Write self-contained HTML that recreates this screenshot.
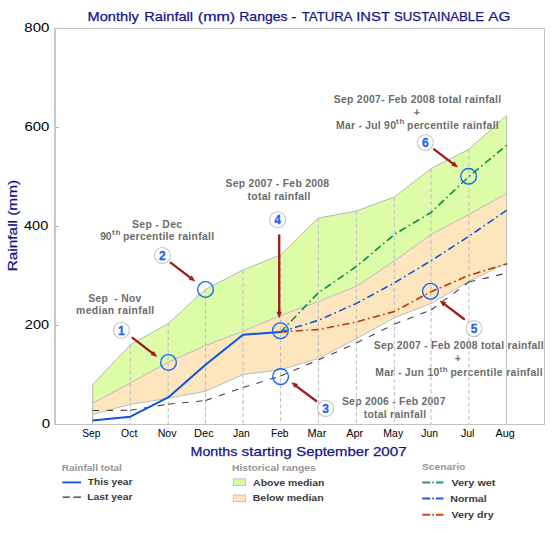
<!DOCTYPE html>
<html><head><meta charset="utf-8"><style>
html,body{margin:0;padding:0;background:#fff;width:555px;height:533px;overflow:hidden;}
svg{display:block;font-family:"Liberation Sans", sans-serif;}
</style></head><body>
<svg width="555" height="533" viewBox="0 0 555 533">
<rect x="0" y="0" width="555" height="533" fill="#ffffff"/>
<text x="87.57" y="20.50" font-size="13.10" fill="#14148a" textLength="51.21" lengthAdjust="spacingAndGlyphs" stroke="#14148a" stroke-width="0.25">Monthly</text>
<text x="144.27" y="20.50" font-size="13.10" fill="#14148a" textLength="48.87" lengthAdjust="spacingAndGlyphs" stroke="#14148a" stroke-width="0.25">Rainfall</text>
<text x="197.82" y="20.50" font-size="13.10" fill="#14148a" textLength="37.25" lengthAdjust="spacingAndGlyphs" stroke="#14148a" stroke-width="0.25">(mm)</text>
<text x="239.22" y="20.50" font-size="13.10" fill="#14148a" textLength="48.36" lengthAdjust="spacingAndGlyphs" stroke="#14148a" stroke-width="0.25">Ranges</text>
<text x="291.39" y="20.50" font-size="13.10" fill="#14148a" textLength="5.18" lengthAdjust="spacingAndGlyphs" stroke="#14148a" stroke-width="0.25">-</text>
<text x="301.80" y="20.50" font-size="13.10" fill="#14148a" textLength="50.76" lengthAdjust="spacingAndGlyphs" stroke="#14148a" stroke-width="0.25">TATURA</text>
<text x="356.25" y="20.50" font-size="13.10" fill="#14148a" textLength="33.68" lengthAdjust="spacingAndGlyphs" stroke="#14148a" stroke-width="0.25">INST</text>
<text x="394.00" y="20.50" font-size="13.10" fill="#14148a" textLength="90.01" lengthAdjust="spacingAndGlyphs" stroke="#14148a" stroke-width="0.25">SUSTAINABLE</text>
<text x="488.34" y="20.50" font-size="13.10" fill="#14148a" textLength="22.21" lengthAdjust="spacingAndGlyphs" stroke="#14148a" stroke-width="0.25">AG</text>
<polygon points="92.6,384.5 130.3,344.8 168.2,323.5 205.5,289.3 243.0,270.0 280.6,254.8 318.4,218.0 356.4,211.0 394.3,197.0 431.0,168.6 468.9,149.3 506.6,115.3 506.6,193.5 468.9,214.5 431.0,234.5 394.3,261.0 356.4,286.3 318.4,301.5 280.6,315.5 243.0,331.3 205.5,345.5 168.2,362.2 130.3,383.0 92.6,403.3" fill="#ddfca8" stroke="none"/>
<polygon points="92.6,403.3 130.3,383.0 168.2,362.2 205.5,345.5 243.0,331.3 280.6,315.5 318.4,301.5 356.4,286.3 394.3,261.0 431.0,234.5 468.9,214.5 506.6,193.5 506.6,263.0 468.9,281.4 431.0,303.5 394.3,317.8 356.4,338.7 318.4,358.5 280.6,369.8 243.0,374.6 205.5,391.3 168.2,398.3 130.3,404.3 92.6,414.6" fill="#fde6be" stroke="none"/>
<polyline points="92.6,384.5 130.3,344.8 168.2,323.5 205.5,289.3 243.0,270.0 280.6,254.8 318.4,218.0 356.4,211.0 394.3,197.0 431.0,168.6 468.9,149.3 506.6,115.3" fill="none" stroke="#b8b8b8" stroke-width="1"/>
<polyline points="92.6,403.3 130.3,383.0 168.2,362.2 205.5,345.5 243.0,331.3 280.6,315.5 318.4,301.5 356.4,286.3 394.3,261.0 431.0,234.5 468.9,214.5 506.6,193.5" fill="none" stroke="#bcbcbc" stroke-width="1"/>
<polyline points="92.6,414.6 130.3,404.3 168.2,398.3 205.5,391.3 243.0,374.6 280.6,369.8 318.4,358.5 356.4,338.7 394.3,317.8 431.0,303.5 468.9,281.4 506.6,263.0" fill="none" stroke="#bcbcbc" stroke-width="1"/>
<line x1="92.6" y1="384.5" x2="92.6" y2="424" stroke="#b8b8b8" stroke-width="1"/>
<line x1="54.5" y1="28.5" x2="544.5" y2="28.5" stroke="#c4c4c4" stroke-width="1"/>
<line x1="544.5" y1="28.5" x2="544.5" y2="424.5" stroke="#c4c4c4" stroke-width="1"/>
<line x1="54" y1="424.5" x2="545" y2="424.5" stroke="#c4c4c4" stroke-width="1.2"/>
<line x1="55" y1="28" x2="55" y2="425" stroke="#c8c8cc" stroke-width="2"/>
<text x="41.68" y="427.60" font-size="13.30" fill="#000" textLength="8.38" lengthAdjust="spacingAndGlyphs">0</text>
<line x1="56" y1="325.5" x2="59" y2="325.5" stroke="#b8b8b8" stroke-width="1"/>
<text x="24.89" y="328.60" font-size="13.30" fill="#000" textLength="24.14" lengthAdjust="spacingAndGlyphs">200</text>
<line x1="56" y1="226.5" x2="59" y2="226.5" stroke="#b8b8b8" stroke-width="1"/>
<text x="23.97" y="229.60" font-size="13.30" fill="#000" textLength="24.26" lengthAdjust="spacingAndGlyphs">400</text>
<line x1="56" y1="127.5" x2="59" y2="127.5" stroke="#b8b8b8" stroke-width="1"/>
<text x="24.42" y="130.60" font-size="13.30" fill="#000" textLength="24.83" lengthAdjust="spacingAndGlyphs">600</text>
<text x="24.32" y="31.60" font-size="13.30" fill="#000" textLength="25.03" lengthAdjust="spacingAndGlyphs">800</text>
<text x="82.22" y="436.80" font-size="10.60" fill="#000" textLength="18.12" lengthAdjust="spacingAndGlyphs">Sep</text>
<text x="121.11" y="436.80" font-size="10.60" fill="#000" textLength="16.18" lengthAdjust="spacingAndGlyphs">Oct</text>
<text x="157.65" y="436.80" font-size="10.60" fill="#000" textLength="18.90" lengthAdjust="spacingAndGlyphs">Nov</text>
<text x="194.12" y="436.80" font-size="10.60" fill="#000" textLength="19.60" lengthAdjust="spacingAndGlyphs">Dec</text>
<text x="233.00" y="436.80" font-size="10.60" fill="#000" textLength="16.77" lengthAdjust="spacingAndGlyphs">Jan</text>
<text x="270.88" y="436.80" font-size="10.60" fill="#000" textLength="17.67" lengthAdjust="spacingAndGlyphs">Feb</text>
<text x="307.42" y="436.80" font-size="10.60" fill="#000" textLength="18.94" lengthAdjust="spacingAndGlyphs">Mar</text>
<text x="346.15" y="436.80" font-size="10.60" fill="#000" textLength="17.05" lengthAdjust="spacingAndGlyphs">Apr</text>
<text x="383.36" y="436.80" font-size="10.60" fill="#000" textLength="19.76" lengthAdjust="spacingAndGlyphs">May</text>
<text x="421.30" y="436.80" font-size="10.60" fill="#000" textLength="16.77" lengthAdjust="spacingAndGlyphs">Jun</text>
<text x="460.90" y="436.80" font-size="10.60" fill="#000" textLength="13.60" lengthAdjust="spacingAndGlyphs">Jul</text>
<text x="495.55" y="436.80" font-size="10.60" fill="#000" textLength="19.28" lengthAdjust="spacingAndGlyphs">Aug</text>
<text x="190.60" y="455.50" font-size="13.10" fill="#14148a" textLength="46.70" lengthAdjust="spacingAndGlyphs" stroke="#14148a" stroke-width="0.25">Months</text>
<text x="241.59" y="455.50" font-size="13.10" fill="#14148a" textLength="50.11" lengthAdjust="spacingAndGlyphs" stroke="#14148a" stroke-width="0.25">starting</text>
<text x="296.32" y="455.50" font-size="13.10" fill="#14148a" textLength="72.54" lengthAdjust="spacingAndGlyphs" stroke="#14148a" stroke-width="0.25">September</text>
<text x="372.95" y="455.50" font-size="13.10" fill="#14148a" textLength="33.70" lengthAdjust="spacingAndGlyphs" stroke="#14148a" stroke-width="0.25">2007</text>
<text transform="translate(16.8,271.29) rotate(-90)" x="0" y="0" font-size="13.1" fill="#14148a" stroke="#14148a" stroke-width="0.25" textLength="91.36" lengthAdjust="spacingAndGlyphs">Rainfall (mm)</text>
<text x="88.30" y="301.60" font-size="10.40" font-weight="bold" fill="#6c6c6c" textLength="53.06" lengthAdjust="spacing" xml:space="preserve">Sep  - Nov</text>
<text x="76.10" y="314.20" font-size="10.40" font-weight="bold" fill="#6c6c6c" textLength="78.15" lengthAdjust="spacing">median rainfall</text>
<text x="132.10" y="227.50" font-size="10.40" font-weight="bold" fill="#6c6c6c" textLength="49.95" lengthAdjust="spacing">Sep - Dec</text>
<text x="100.15" y="239.50" font-size="10.40" font-weight="bold" fill="#6c6c6c" textLength="11.47" lengthAdjust="spacing">90</text>
<text x="111.95" y="235.30" font-size="8.00" font-weight="bold" fill="#6c6c6c" textLength="8.55" lengthAdjust="spacing">th</text>
<text x="122.90" y="239.50" font-size="10.40" font-weight="bold" fill="#6c6c6c" textLength="91.13" lengthAdjust="spacing">percentile rainfall</text>
<text x="225.50" y="186.90" font-size="10.40" font-weight="bold" fill="#6c6c6c" textLength="103.61" lengthAdjust="spacing">Sep 2007 - Feb 2008</text>
<text x="247.45" y="200.40" font-size="10.40" font-weight="bold" fill="#6c6c6c" textLength="63.00" lengthAdjust="spacing">total rainfall</text>
<text x="333.70" y="102.90" font-size="10.40" font-weight="bold" fill="#6c6c6c" textLength="167.36" lengthAdjust="spacing">Sep 2007- Feb 2008 total rainfall</text>
<text x="413.85" y="115.50" font-size="10.40" font-weight="bold" fill="#6c6c6c" textLength="5.77" lengthAdjust="spacing">+</text>
<text x="336.10" y="128.50" font-size="10.40" font-weight="bold" fill="#6c6c6c" textLength="59.82" lengthAdjust="spacing">Mar - Jul 90</text>
<text x="396.10" y="124.40" font-size="8.00" font-weight="bold" fill="#6c6c6c" textLength="8.20" lengthAdjust="spacing">th</text>
<text x="407.00" y="128.50" font-size="10.40" font-weight="bold" fill="#6c6c6c" textLength="91.73" lengthAdjust="spacing">percentile rainfall</text>
<text x="373.70" y="349.00" font-size="10.40" font-weight="bold" fill="#6c6c6c" textLength="169.85" lengthAdjust="spacing">Sep 2007 - Feb 2008 total rainfall</text>
<text x="454.65" y="362.00" font-size="10.40" font-weight="bold" fill="#6c6c6c" textLength="6.27" lengthAdjust="spacing">+</text>
<text x="375.30" y="375.80" font-size="10.40" font-weight="bold" fill="#6c6c6c" textLength="64.04" lengthAdjust="spacing">Mar - Jun 10</text>
<text x="439.50" y="371.70" font-size="8.00" font-weight="bold" fill="#6c6c6c" textLength="8.20" lengthAdjust="spacing">th</text>
<text x="450.40" y="375.80" font-size="10.40" font-weight="bold" fill="#6c6c6c" textLength="92.23" lengthAdjust="spacing">percentile rainfall</text>
<text x="341.90" y="405.10" font-size="10.40" font-weight="bold" fill="#6c6c6c" textLength="103.51" lengthAdjust="spacing">Sep 2006 - Feb 2007</text>
<text x="363.65" y="418.20" font-size="10.40" font-weight="bold" fill="#6c6c6c" textLength="62.40" lengthAdjust="spacing">total rainfall</text>
<line x1="130.3" y1="344.8" x2="130.3" y2="424" stroke="#bcbcc4" stroke-width="1" stroke-dasharray="4,2.5"/>
<line x1="168.2" y1="323.5" x2="168.2" y2="424" stroke="#bcbcc4" stroke-width="1" stroke-dasharray="4,2.5"/>
<line x1="205.5" y1="289.3" x2="205.5" y2="424" stroke="#bcbcc4" stroke-width="1" stroke-dasharray="4,2.5"/>
<line x1="243.0" y1="270.0" x2="243.0" y2="424" stroke="#bcbcc4" stroke-width="1" stroke-dasharray="4,2.5"/>
<line x1="280.6" y1="254.8" x2="280.6" y2="424" stroke="#bcbcc4" stroke-width="1" stroke-dasharray="4,2.5"/>
<line x1="318.4" y1="218.0" x2="318.4" y2="424" stroke="#bcbcc4" stroke-width="1" stroke-dasharray="4,2.5"/>
<line x1="356.4" y1="211.0" x2="356.4" y2="424" stroke="#bcbcc4" stroke-width="1" stroke-dasharray="4,2.5"/>
<line x1="394.3" y1="197.0" x2="394.3" y2="424" stroke="#bcbcc4" stroke-width="1" stroke-dasharray="4,2.5"/>
<line x1="431.0" y1="168.6" x2="431.0" y2="424" stroke="#bcbcc4" stroke-width="1" stroke-dasharray="4,2.5"/>
<line x1="468.9" y1="149.3" x2="468.9" y2="424" stroke="#bcbcc4" stroke-width="1" stroke-dasharray="4,2.5"/>
<line x1="506.6" y1="115.3" x2="506.6" y2="424" stroke="#bcbcbc" stroke-width="1"/>
<line x1="92.6" y1="410.5" x2="130.3" y2="410.3" stroke="#404040" stroke-width="1.1" stroke-dasharray="6.5,7.5"/>
<line x1="130.3" y1="410.3" x2="168.2" y2="404.2" stroke="#404040" stroke-width="1.1" stroke-dasharray="6.5,7.5"/>
<line x1="168.2" y1="404.2" x2="205.5" y2="400.5" stroke="#404040" stroke-width="1.1" stroke-dasharray="6.5,7.5"/>
<line x1="205.5" y1="400.5" x2="243.0" y2="387.5" stroke="#404040" stroke-width="1.1" stroke-dasharray="6.5,7.5"/>
<line x1="243.0" y1="387.5" x2="280.6" y2="376.0" stroke="#404040" stroke-width="1.1" stroke-dasharray="6.5,7.5"/>
<line x1="280.6" y1="376.0" x2="318.4" y2="360.0" stroke="#404040" stroke-width="1.1" stroke-dasharray="6.5,7.5"/>
<line x1="318.4" y1="360.0" x2="356.4" y2="343.0" stroke="#404040" stroke-width="1.1" stroke-dasharray="6.5,7.5"/>
<line x1="356.4" y1="343.0" x2="394.3" y2="324.2" stroke="#404040" stroke-width="1.1" stroke-dasharray="6.5,7.5"/>
<line x1="394.3" y1="324.2" x2="431.0" y2="310.0" stroke="#404040" stroke-width="1.1" stroke-dasharray="6.5,7.5"/>
<line x1="431.0" y1="310.0" x2="468.9" y2="282.0" stroke="#404040" stroke-width="1.1" stroke-dasharray="6.5,7.5"/>
<line x1="468.9" y1="282.0" x2="506.6" y2="273.2" stroke="#404040" stroke-width="1.1" stroke-dasharray="6.5,7.5"/>
<polyline points="92.6,420.6 130.3,416.7 168.2,397.4 205.5,364.8 243.0,334.8 280.6,332.0" fill="none" stroke="#0a55dd" stroke-width="2.0" stroke-linejoin="round"/>
<polyline points="280.6,332.0 318.4,292.8 356.4,266.5 394.3,234.5 431.0,212.5 468.9,176.5 506.6,145.3" fill="none" stroke="#0b8a4e" stroke-width="1.6" stroke-linecap="round" stroke-dasharray="6.2,4.6,0.3,4.6"/>
<polyline points="280.6,332.0 318.4,320.3 356.4,303.4 394.3,282.9 431.0,260.8 468.9,236.3 506.6,210.3" fill="none" stroke="#1658d8" stroke-width="1.6" stroke-linecap="round" stroke-dasharray="6.2,4.6,0.3,4.6"/>
<polyline points="280.6,332.0 318.4,329.5 356.4,322.0 394.3,311.5 431.0,291.8 468.9,275.4 506.6,264.0" fill="none" stroke="#c0360c" stroke-width="1.6" stroke-linecap="round" stroke-dasharray="6.2,4.6,0.3,4.6"/>
<circle cx="168.5" cy="362.5" r="7.85" fill="none" stroke="#1468f4" stroke-width="1.35"/>
<circle cx="205.5" cy="289.5" r="7.85" fill="none" stroke="#1468f4" stroke-width="1.35"/>
<circle cx="280.4" cy="330.8" r="7.85" fill="none" stroke="#1468f4" stroke-width="1.35"/>
<circle cx="280.6" cy="376.6" r="7.85" fill="none" stroke="#1468f4" stroke-width="1.35"/>
<circle cx="430.5" cy="291.3" r="7.85" fill="none" stroke="#1468f4" stroke-width="1.35"/>
<circle cx="468.6" cy="176.3" r="7.85" fill="none" stroke="#1468f4" stroke-width="1.35"/>
<line x1="132.6" y1="337.8" x2="152.7" y2="353.3" stroke="#a41a1a" stroke-width="2.3" stroke-linecap="round"/>
<polygon points="157.4,356.9 150.7,355.1 153.9,350.9" fill="#a41a1a"/>
<line x1="170.6" y1="262.6" x2="190.6" y2="277.8" stroke="#a41a1a" stroke-width="2.3" stroke-linecap="round"/>
<polygon points="195.3,281.4 188.6,279.6 191.8,275.5" fill="#a41a1a"/>
<line x1="279.2" y1="235.3" x2="279.2" y2="312.3" stroke="#a41a1a" stroke-width="2.3" stroke-linecap="round"/>
<polygon points="279.2,318.2 276.6,311.8 281.8,311.8" fill="#a41a1a"/>
<line x1="316.2" y1="401.0" x2="296.0" y2="385.8" stroke="#a41a1a" stroke-width="2.3" stroke-linecap="round"/>
<polygon points="291.3,382.2 298.0,384.0 294.8,388.1" fill="#a41a1a"/>
<line x1="464.0" y1="319.0" x2="444.3" y2="304.1" stroke="#a41a1a" stroke-width="2.3" stroke-linecap="round"/>
<polygon points="439.6,300.5 446.3,302.3 443.1,306.4" fill="#a41a1a"/>
<line x1="434.1" y1="149.3" x2="453.3" y2="163.8" stroke="#a41a1a" stroke-width="2.3" stroke-linecap="round"/>
<polygon points="458.0,167.4 451.3,165.6 454.5,161.5" fill="#a41a1a"/>
<circle cx="121.4" cy="330.2" r="8" fill="#fff" stroke="#c4c4c4" stroke-width="1.1"/>
<text x="121.4" y="334.5" font-size="12" font-weight="bold" fill="#1a66ee" stroke="#1a66ee" stroke-width="0.3" text-anchor="middle">1</text>
<circle cx="162.4" cy="255.5" r="8" fill="#fff" stroke="#c4c4c4" stroke-width="1.1"/>
<text x="162.4" y="259.8" font-size="12" font-weight="bold" fill="#1a66ee" stroke="#1a66ee" stroke-width="0.3" text-anchor="middle">2</text>
<circle cx="325.6" cy="408.4" r="8" fill="#fff" stroke="#c4c4c4" stroke-width="1.1"/>
<text x="325.6" y="412.7" font-size="12" font-weight="bold" fill="#1a66ee" stroke="#1a66ee" stroke-width="0.3" text-anchor="middle">3</text>
<circle cx="277.6" cy="219.8" r="8" fill="#fff" stroke="#c4c4c4" stroke-width="1.1"/>
<text x="277.6" y="224.1" font-size="12" font-weight="bold" fill="#1a66ee" stroke="#1a66ee" stroke-width="0.3" text-anchor="middle">4</text>
<circle cx="474.0" cy="328.6" r="8" fill="#fff" stroke="#c4c4c4" stroke-width="1.1"/>
<text x="474.0" y="332.9" font-size="12" font-weight="bold" fill="#1a66ee" stroke="#1a66ee" stroke-width="0.3" text-anchor="middle">5</text>
<circle cx="425.4" cy="142.5" r="8" fill="#fff" stroke="#c4c4c4" stroke-width="1.1"/>
<text x="425.4" y="146.8" font-size="12" font-weight="bold" fill="#1a66ee" stroke="#1a66ee" stroke-width="0.3" text-anchor="middle">6</text>
<text x="61.70" y="470.60" font-size="9.20" font-weight="bold" fill="#969696" textLength="60.22" lengthAdjust="spacingAndGlyphs">Rainfall total</text>
<line x1="62.3" y1="482.4" x2="81.1" y2="482.4" stroke="#1a58e0" stroke-width="1.9"/>
<text x="87.79" y="484.80" font-size="9.40" font-weight="bold" fill="#3a3a3a" textLength="44.70" lengthAdjust="spacingAndGlyphs">This year</text>
<line x1="62.7" y1="497.2" x2="69.9" y2="497.2" stroke="#666" stroke-width="1.8"/>
<line x1="73.4" y1="497.2" x2="81" y2="497.2" stroke="#666" stroke-width="1.8"/>
<text x="87.19" y="500.10" font-size="9.40" font-weight="bold" fill="#3a3a3a" textLength="45.26" lengthAdjust="spacingAndGlyphs">Last year</text>
<text x="231.93" y="470.90" font-size="9.20" font-weight="bold" fill="#969696" textLength="83.87" lengthAdjust="spacingAndGlyphs">Historical ranges</text>
<rect x="233.4" y="478.9" width="12" height="6.6" fill="#ddfca8" stroke="#c0c0c0" stroke-width="1"/>
<text x="253.12" y="486.00" font-size="9.40" font-weight="bold" fill="#3a3a3a" textLength="71.34" lengthAdjust="spacingAndGlyphs">Above median</text>
<rect x="233.4" y="495.0" width="12" height="6.6" fill="#fde6be" stroke="#c0c0c0" stroke-width="1"/>
<text x="252.67" y="501.10" font-size="9.40" font-weight="bold" fill="#3a3a3a" textLength="71.01" lengthAdjust="spacingAndGlyphs">Below median</text>
<text x="422.02" y="470.20" font-size="9.20" font-weight="bold" fill="#969696" textLength="43.28" lengthAdjust="spacingAndGlyphs">Scenario</text>
<line x1="422.3" y1="482.6" x2="443.4" y2="482.6" stroke="#2a9a68" stroke-width="2" stroke-dasharray="8,2,1.6,2"/>
<text x="451.44" y="485.60" font-size="9.40" font-weight="bold" fill="#3a3a3a" textLength="44.03" lengthAdjust="spacingAndGlyphs">Very wet</text>
<line x1="422.3" y1="498.5" x2="443.4" y2="498.5" stroke="#1a5adc" stroke-width="2" stroke-dasharray="8,2,1.6,2"/>
<text x="450.27" y="502.10" font-size="9.40" font-weight="bold" fill="#3a3a3a" textLength="36.40" lengthAdjust="spacingAndGlyphs">Normal</text>
<line x1="422.3" y1="514.8" x2="443.4" y2="514.8" stroke="#d04a14" stroke-width="2" stroke-dasharray="8,2,1.6,2"/>
<text x="451.44" y="518.00" font-size="9.40" font-weight="bold" fill="#3a3a3a" textLength="42.22" lengthAdjust="spacingAndGlyphs">Very dry</text>
</svg>
</body></html>
